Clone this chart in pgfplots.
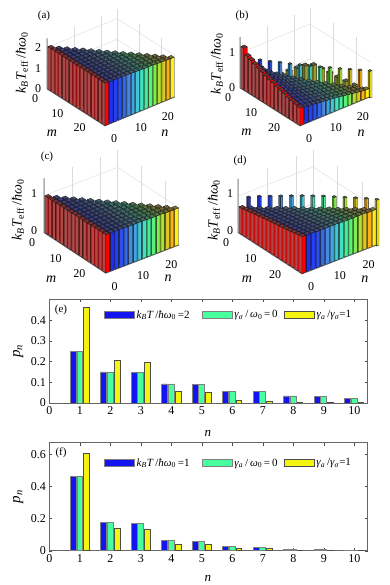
\documentclass[border=0pt]{standalone}
\usepackage{fontspec}
\setmainfont{Liberation Serif}
\usepackage{pgfplots}
\pgfplotsset{compat=1.18}

% colours per bar column j = 1..16
\definecolor{cn1}{HTML}{FF0000}
\definecolor{cn2}{HTML}{2030F0}
\definecolor{cn3}{HTML}{2440F0}
\definecolor{cn4}{HTML}{2C50EC}
\definecolor{cn5}{HTML}{3468E8}
\definecolor{cn6}{HTML}{4888E0}
\definecolor{cn7}{HTML}{40A4E0}
\definecolor{cn8}{HTML}{40C8D8}
\definecolor{cn9}{HTML}{40E0C0}
\definecolor{cn10}{HTML}{48EC9C}
\definecolor{cn11}{HTML}{58F078}
\definecolor{cn12}{HTML}{80EE50}
\definecolor{cn13}{HTML}{B0E030}
\definecolor{cn14}{HTML}{D8C820}
\definecolor{cn15}{HTML}{FFB010}
\definecolor{cn16}{HTML}{FFF010}
\definecolor{cn99}{HTML}{9A9A30}
% left-facing sides
\definecolor{cs1}{HTML}{B04848}
\colorlet{cs2}{cn2!70!black}
\colorlet{cs3}{cn3!70!black}
\colorlet{cs4}{cn4!70!black}
\colorlet{cs5}{cn5!70!black}
\colorlet{cs6}{cn6!70!black}
\colorlet{cs7}{cn7!70!black}
\colorlet{cs8}{cn8!70!black}
\colorlet{cs9}{cn9!70!black}
\colorlet{cs10}{cn10!70!black}
\colorlet{cs11}{cn11!70!black}
\colorlet{cs12}{cn12!70!black}
\colorlet{cs13}{cn13!70!black}
\colorlet{cs14}{cn14!70!black}
\colorlet{cs15}{cn15!70!black}
\colorlet{cs16}{cn16!70!black}
\colorlet{cs99}{cn99!70!black}
\definecolor{barblue}{HTML}{1414F0}
\definecolor{bargreen}{HTML}{48FFA0}
\definecolor{baryellow}{HTML}{F4F410}

\pgfplotsset{
  face/.style={draw=black!90, line width=0.3pt, forget plot},
  bars3d/.style={
    xmin=0, xmax=26, ymin=0, ymax=26, zmin=0,
    xtick={0,10,20}, ytick={0,10,20},
    grid=major, grid style={black!14, line width=0.4pt},
    axis line style={draw=none}, tick style={draw=none},
    clip=false,
    /pgf/number format/assume math mode=true,
    tick label style={font=\fontsize{12}{12}\selectfont},
    label style={font=\fontsize{14}{14}\selectfont},
    zlabel={\textit{k}\textsubscript{\textit{B}}\textit{T}\textsubscript{eff}\,/\textit{ħω}\textsubscript{0}},
    xlabel={\textit{m}}, ylabel={\textit{n}},
  },
  bars2d/.style={
    scale only axis, width=318.4pt, xmin=0, xmax=10.44, ymin=0,
    xtick={0,...,10},
    tick align=inside, major tick length=3pt,
    axis line style={black!60, line width=0.7pt}, tick style={black!70},
    /pgf/number format/assume math mode=true,
    tick label style={font=\fontsize{12}{12}\selectfont},
    xlabel={\textit{n}}, ylabel={\textit{p}\textsubscript{\textit{n}}},
    xlabel style={font=\fontsize{13}{13}\selectfont},
    ylabel style={font=\fontsize{15}{15}\selectfont},
    legend columns=3,
    legend cell align=left,
    legend style={draw=none, fill=none, font=\fontsize{11}{11}\selectfont,
      /tikz/column 2/.style={column sep=10pt},
      /tikz/column 4/.style={column sep=4pt}},
    legend image code/.code={\draw[##1] (0pt,-3.5pt) rectangle (30pt,3.5pt);},
  },
  sb/.style={ybar, bar width=0.19, draw=black!50, line width=0.8pt},
}

% one bar: m, n, z, half width, colour key
\newcommand{\drawbar}[5]{%
  \pgfmathsetmacro\xa{#1-#4}\pgfmathsetmacro\xb{#1+#4}%
  \pgfmathsetmacro\ya{#2-#4}\pgfmathsetmacro\yb{#2+#4}%
  \edef\temp{%
    \noexpand\addplot3[face, fill=cs#5] coordinates {(\xa,\ya,0)(\xb,\ya,0)(\xb,\ya,#3)(\xa,\ya,#3)(\xa,\ya,0)};
    \noexpand\addplot3[face, fill=cn#5] coordinates {(\xb,\ya,0)(\xb,\yb,0)(\xb,\yb,#3)(\xb,\ya,#3)(\xb,\ya,0)};
    \noexpand\addplot3[face, fill=cn#5!45!black!60!gray] coordinates {(\xa,\ya,#3)(\xb,\ya,#3)(\xb,\yb,#3)(\xa,\yb,#3)(\xa,\ya,#3)};
  }\temp}

% rows: index i / heights for columns j = i, i-1, ..., 1; bars sit 1.625 apart
\newcommand{\drawrows}[1]{%
  \foreach \ii/\zs in {#1}{%
    \pgfmathsetmacro\m{(\ii-0.5)*1.625}%
    \foreach \z [count=\k from 0] in \zs {%
      \pgfmathtruncatemacro\j{\ii-\k}%
      \pgfmathsetmacro\n{(\j-0.5)*1.625}%
      \drawbar{\m}{\n}{\z}{0.64}{\j}%
    }%
  }}
% poles on the diagonal: t / colour key / height
\newcommand{\drawpoles}[1]{%
  \foreach \t/\c/\z in {#1}{\drawbar{\t}{\t}{\z}{0.38}{\c}}}

\begin{document}
\begin{tikzpicture}[x=1pt,y=1pt]
\path[use as bounding box] (0,0) rectangle (390,585);

% (a)
\begin{axis}[bars3d, at={(47pt,496pt)}, anchor=origin,
  x={(2.231pt,-1.423pt)}, y={(2.692pt,1.115pt)}, z={(0pt,20.7pt)},
  zmax=2.45, ztick={0,1,2},
  xticklabel style={anchor=center, xshift=-12pt, yshift=-10pt},
  yticklabel style={anchor=center, xshift=9pt, yshift=-13pt},
  zticklabel style={anchor=center, xshift=-9pt, yshift=0pt},
  xlabel style={at={(axis cs:19.6,-14.4,0)}, anchor=center},
  ylabel style={at={(axis cs:39.6,11,0)}, anchor=center},
  zlabel style={at={(axis cs:0,0,1.25)}, anchor=center, yshift=25pt},
]
\addplot3[black!60, line width=0.6pt, forget plot] coordinates {(0,0,2.45)(0,0,0)(26,0,0)(26,26,0)};
\drawrows{1/{2.05},
2/{2.04,2.05},
3/{2.03,2.04,2.05},
4/{2.02,2.03,2.04,2.05},
5/{2.02,2.02,2.03,2.04,2.05},
6/{2.01,2.02,2.02,2.03,2.04,2.05},
7/{2.00,2.01,2.02,2.02,2.03,2.04,2.05},
8/{1.99,2.00,2.01,2.02,2.02,2.03,2.04,2.05},
9/{1.98,1.99,2.00,2.01,2.02,2.02,2.03,2.04,2.05},
10/{1.97,1.98,1.99,2.00,2.01,2.02,2.02,2.03,2.04,2.05},
11/{1.97,1.97,1.98,1.99,2.00,2.01,2.02,2.02,2.03,2.04,2.05},
12/{1.96,1.97,1.97,1.98,1.99,2.00,2.01,2.02,2.02,2.03,2.04,2.05},
13/{1.95,1.96,1.97,1.97,1.98,1.99,2.00,2.01,2.02,2.02,2.03,2.04,2.05},
14/{1.94,1.95,1.96,1.97,1.97,1.98,1.99,2.00,2.01,2.02,2.02,2.03,2.04,2.05},
15/{1.93,1.94,1.95,1.96,1.97,1.97,1.98,1.99,2.00,2.01,2.02,2.02,2.03,2.04,2.05},
16/{1.92,1.93,1.94,1.95,1.96,1.97,1.97,1.98,1.99,2.00,2.01,2.02,2.02,2.03,2.04,2.05}}
\end{axis}
\node[font=\fontsize{11}{11}\selectfont] at (44,569) {(a)};

% (b)
\begin{axis}[bars3d, at={(240pt,497pt)}, anchor=origin,
  x={(2.308pt,-1.462pt)}, y={(2.692pt,1.115pt)}, z={(0pt,35pt)},
  zmax=1.46, ztick={0,1},
  xticklabel style={anchor=center, xshift=-12pt, yshift=-10pt},
  yticklabel style={anchor=center, xshift=9pt, yshift=-13pt},
  zticklabel style={anchor=center, xshift=-8pt, yshift=0pt},
  xlabel style={at={(axis cs:19.6,-14.4,0)}, anchor=center},
  ylabel style={at={(axis cs:39.6,11,0)}, anchor=center},
  zlabel style={at={(axis cs:0,0,0.7)}, anchor=center, yshift=23pt},
]
\addplot3[black!60, line width=0.6pt, forget plot] coordinates {(0,0,1.46)(0,0,0)(26,0,0)(26,26,0)};
% mound behind the diagonal
\foreach \m/\n/\z in {0.81/2.44/0.08,2.44/4.06/0.16,4.06/5.69/0.25,5.69/7.31/0.35,7.31/8.94/0.45,8.94/10.56/0.55,10.56/12.19/0.65,12.19/13.81/0.74,13.81/15.44/0.77,15.44/17.06/0.68,17.06/18.69/0.58,18.69/20.31/0.47,20.31/21.94/0.37,21.94/23.56/0.27,23.56/25.19/0.17}{%
  \drawbar{\m}{\n}{\z}{0.64}{99}%
}
\drawpoles{2/2/0.90,4/3/0.85,6/4/0.83,8/6/0.82,10/7/0.80,12/8/0.79,14/9/0.78,16/10/0.77,18/12/0.77,20/13/0.76,22/14/0.76,24/15/0.76,26/16/0.76}
\drawrows{1/{1.19},
2/{0.78,1.02},
3/{0.66,0.76,0.97},
4/{0.56,0.64,0.74,0.92},
5/{0.49,0.55,0.62,0.72,0.87},
6/{0.45,0.49,0.54,0.60,0.70,0.83},
7/{0.41,0.45,0.48,0.53,0.59,0.68,0.79},
8/{0.38,0.41,0.44,0.47,0.52,0.58,0.66,0.75},
9/{0.35,0.38,0.41,0.44,0.47,0.51,0.57,0.64,0.72},
10/{0.33,0.35,0.38,0.40,0.43,0.46,0.50,0.55,0.62,0.68},
11/{0.31,0.33,0.35,0.38,0.40,0.43,0.46,0.49,0.54,0.60,0.65},
12/{0.29,0.31,0.33,0.35,0.38,0.40,0.43,0.46,0.49,0.53,0.58,0.62},
13/{0.27,0.29,0.31,0.33,0.35,0.37,0.40,0.42,0.45,0.48,0.52,0.56,0.58},
14/{0.26,0.27,0.29,0.31,0.33,0.35,0.37,0.40,0.42,0.45,0.47,0.50,0.53,0.55},
15/{0.25,0.26,0.27,0.29,0.31,0.33,0.35,0.37,0.39,0.41,0.43,0.46,0.48,0.51,0.52},
16/{0.24,0.25,0.27,0.29,0.31,0.33,0.35,0.37,0.39,0.40,0.42,0.43,0.45,0.46,0.48,0.50}}
\end{axis}
\node[font=\fontsize{11}{11}\selectfont] at (242,569) {(b)};

% (c)
\begin{axis}[bars3d, at={(44pt,352.3pt)}, anchor=origin,
  x={(2.373pt,-1.562pt)}, y={(2.831pt,1.088pt)}, z={(0pt,37pt)},
  zmax=1.47, ztick={0,1},
  xticklabel style={anchor=center, xshift=-12pt, yshift=-10pt},
  yticklabel style={anchor=center, xshift=9pt, yshift=-13pt},
  zticklabel style={anchor=center, xshift=-10pt, yshift=2pt},
  xlabel style={at={(axis cs:19.8,-14.1,0)}, anchor=center},
  ylabel style={at={(axis cs:37.6,12.3,0)}, anchor=center},
  zlabel style={at={(axis cs:0,0,0.61)}, anchor=center, yshift=26pt},
]
\addplot3[black!60, line width=0.6pt, forget plot] coordinates {(0,0,1.47)(0,0,0)(26,0,0)(26,26,0)};
\drawrows{1/{1.00},
2/{1.00,1.00},
3/{1.00,1.00,1.00},
4/{1.00,1.00,1.00,1.01},
5/{1.00,1.00,1.00,1.01,1.01},
6/{1.00,1.00,1.00,1.01,1.01,1.01},
7/{1.00,1.00,1.00,1.01,1.01,1.01,1.01},
8/{1.00,1.00,1.00,1.01,1.01,1.01,1.01,1.02},
9/{1.00,1.00,1.00,1.01,1.01,1.01,1.01,1.02,1.02},
10/{1.00,1.00,1.00,1.01,1.01,1.01,1.01,1.02,1.02,1.02},
11/{1.00,1.00,1.00,1.01,1.01,1.01,1.01,1.02,1.02,1.02,1.02},
12/{1.00,1.00,1.00,1.01,1.01,1.01,1.01,1.02,1.02,1.02,1.02,1.02},
13/{1.00,1.00,1.00,1.01,1.01,1.01,1.01,1.02,1.02,1.02,1.02,1.02,1.03},
14/{1.00,1.00,1.00,1.01,1.01,1.01,1.01,1.02,1.02,1.02,1.02,1.02,1.03,1.03},
15/{1.00,1.00,1.00,1.01,1.01,1.01,1.01,1.02,1.02,1.02,1.02,1.02,1.03,1.03,1.03},
16/{1.00,1.00,1.00,1.01,1.01,1.01,1.01,1.02,1.02,1.02,1.02,1.02,1.03,1.03,1.03,1.03}}
\end{axis}
\node[font=\fontsize{11}{11}\selectfont] at (47,428) {(c)};

% (d)
\begin{axis}[bars3d, at={(238pt,352.3pt)}, anchor=origin,
  x={(2.462pt,-1.588pt)}, y={(2.885pt,1.115pt)}, z={(0pt,36.7pt)},
  zmax=1.47, ztick={0,1},
  xticklabel style={anchor=center, xshift=-12pt, yshift=-10pt},
  yticklabel style={anchor=center, xshift=9pt, yshift=-13pt},
  zticklabel style={anchor=center, xshift=-8pt, yshift=2pt},
  xlabel style={at={(axis cs:19.8,-13.8,0)}, anchor=center},
  ylabel style={at={(axis cs:37.5,12,0)}, anchor=center},
  zlabel style={at={(axis cs:0,0,0.61)}, anchor=center, yshift=24pt},
]
\addplot3[black!60, line width=0.6pt, forget plot] coordinates {(0,0,1.47)(0,0,0)(26,0,0)(26,26,0)};
\drawpoles{2/2/1.00,4/3/1.05,6/4/1.08,8/6/1.11,10/7/1.14,12/8/1.17,14/9/1.19,16/10/1.21,18/12/1.22,20/13/1.23,22/14/1.24,24/15/1.25,26/16/1.25}
\drawrows{1/{0.71},
2/{0.72,0.73},
3/{0.73,0.74,0.75},
4/{0.75,0.75,0.76,0.77},
5/{0.77,0.77,0.78,0.78,0.79},
6/{0.79,0.79,0.80,0.80,0.80,0.81},
7/{0.81,0.81,0.81,0.82,0.82,0.82,0.83},
8/{0.82,0.83,0.83,0.83,0.84,0.84,0.84,0.85},
9/{0.84,0.85,0.85,0.85,0.86,0.86,0.86,0.87,0.87},
10/{0.86,0.87,0.87,0.87,0.87,0.88,0.88,0.88,0.89,0.89},
11/{0.88,0.88,0.88,0.88,0.89,0.89,0.89,0.89,0.90,0.90,0.90},
12/{0.89,0.90,0.90,0.90,0.90,0.91,0.91,0.91,0.91,0.92,0.92,0.92},
13/{0.91,0.92,0.92,0.92,0.92,0.93,0.93,0.93,0.93,0.93,0.94,0.94,0.94},
14/{0.93,0.94,0.94,0.94,0.94,0.94,0.95,0.95,0.95,0.95,0.95,0.96,0.96,0.96},
15/{0.95,0.96,0.96,0.96,0.96,0.96,0.97,0.97,0.97,0.97,0.97,0.97,0.98,0.98,0.98},
16/{0.97,0.97,0.98,0.98,0.98,0.98,0.98,0.98,0.99,0.99,0.99,0.99,0.99,1.00,1.00,1.00}}
\end{axis}
\node[font=\fontsize{11}{11}\selectfont] at (240,424) {(d)};

% (e)
\begin{axis}[bars2d, at={(49.3pt,182pt)}, anchor=south west, height=104pt,
  ymax=0.502, ytick={0,0.1,0.2,0.3,0.4},
  yticklabel style={/pgf/number format/fixed},
  legend style={at={(axis cs:1.68,0.425)}, anchor=west},
  xlabel style={at={(axis cs:5.2,0)}, anchor=center, yshift=-30pt},
  ylabel style={at={(axis cs:0,0.25)}, anchor=center, yshift=31pt},
]
\addplot[sb, bar shift=-0.22, fill=barblue] coordinates {(1,0.248)(2,0.150)(3,0.148)(4,0.092)(5,0.088)(6,0.056)(7,0.054)(8,0.034)(9,0.033)(10,0.020)};
\addlegendentry{\textit{k}\textsubscript{\textit{B}}\textit{T}\,/\textit{ħω}\textsubscript{0}\,=2}
\addplot[sb, bar shift=0, fill=bargreen] coordinates {(1,0.248)(2,0.150)(3,0.148)(4,0.092)(5,0.088)(6,0.056)(7,0.054)(8,0.034)(9,0.033)(10,0.020)};
\addlegendentry{\textit{γ}\textsubscript{\textit{σ}}\,/\,\textit{ω}\textsubscript{0}\,=\,0}
\addplot[sb, bar shift=0.22, fill=baryellow, draw=black!70] coordinates {(1,0.463)(2,0.205)(3,0.197)(4,0.058)(5,0.053)(6,0.011)(7,0.010)(8,0.002)(9,0.001)(10,0.001)};
\addlegendentry{\textit{γ}\textsubscript{\textit{a}}\,/\textit{γ}\textsubscript{\textit{σ}}=1}
\end{axis}
\node[font=\fontsize{11}{11}\selectfont] at (61,275) {(e)};

% (f)
\begin{axis}[bars2d, at={(49.3pt,34.3pt)}, anchor=south west, height=108pt,
  ymax=0.672, ytick={0,0.2,0.4,0.6},
  yticklabel style={/pgf/number format/fixed},
  legend style={at={(axis cs:1.68,0.545)}, anchor=west},
  xlabel style={at={(axis cs:5.2,0)}, anchor=center, yshift=-28pt},
  ylabel style={at={(axis cs:0,0.335)}, anchor=center, yshift=31pt},
]
\addplot[sb, bar shift=-0.22, fill=barblue] coordinates {(1,0.463)(2,0.175)(3,0.167)(4,0.065)(5,0.060)(6,0.024)(7,0.023)(8,0.008)(9,0.007)(10,0.004)};
\addlegendentry{\textit{k}\textsubscript{\textit{B}}\textit{T}\,/\textit{ħω}\textsubscript{0}\,=1}
\addplot[sb, bar shift=0, fill=bargreen] coordinates {(1,0.463)(2,0.175)(3,0.167)(4,0.065)(5,0.060)(6,0.024)(7,0.023)(8,0.008)(9,0.007)(10,0.004)};
\addlegendentry{\textit{γ}\textsubscript{\textit{a}}\,/\,\textit{ω}\textsubscript{0}\,=\,0}
\addplot[sb, bar shift=0.22, fill=baryellow, draw=black!70] coordinates {(1,0.603)(2,0.140)(3,0.133)(4,0.042)(5,0.040)(6,0.014)(7,0.013)(8,0.003)(9,0.003)(10,0.001)};
\addlegendentry{\textit{γ}\textsubscript{\textit{a}}\,/\textit{γ}\textsubscript{\textit{σ}}=1}
\end{axis}
\node[font=\fontsize{11}{11}\selectfont] at (61,132) {(f)};
\end{tikzpicture}
\end{document}
